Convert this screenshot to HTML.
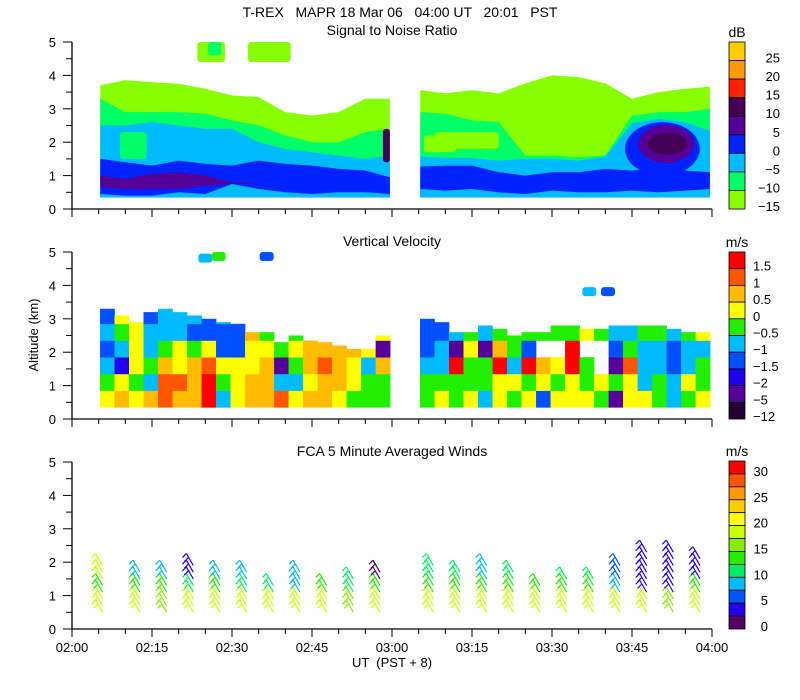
<!DOCTYPE html>
<html><head><meta charset="utf-8"><style>
body{margin:0;background:#fff}
svg{display:block}
text{font-family:"Liberation Sans",sans-serif;fill:#000}
</style></head><body>
<svg id="chart" width="800" height="700" viewBox="0 0 800 700" xmlns="http://www.w3.org/2000/svg">
<text x="400" y="17" font-size="14" text-anchor="middle" xml:space="preserve">T-REX   MAPR 18 Mar 06   04:00 UT   20:01   PST</text>
<text x="392" y="35" font-size="14" text-anchor="middle">Signal to Noise Ratio</text>
<text x="392" y="246" font-size="14" text-anchor="middle">Vertical Velocity</text>
<text x="392" y="456" font-size="14" text-anchor="middle">FCA 5 Minute Averaged Winds</text>
<text x="38" y="335" font-size="13" text-anchor="middle" transform="rotate(-90 38 335)">Altitude (km)</text>
<text x="392" y="667" font-size="13" text-anchor="middle" xml:space="preserve">UT  (PST + 8)</text>
<g id="g1"></g>
<g id="g2"></g>
<g id="g3"></g>
<g id="axes"></g>
<g id="bars"></g>
</svg>
<script>
// ---------- data ----------
const snrTimes1=[5.3,10,15,20,25,30,35,40,45,50,55,59.6];
const snrTimes2=[65.3,70,75,80,85,90,95,100,105,110,115,119.6];
const snrYGTop1=[3.7,3.86,3.8,3.75,3.6,3.4,3.35,2.9,2.8,2.9,3.3,3.3];
const snrGreenTop1=[3.3,2.9,2.9,2.9,2.85,2.65,2.5,2.2,2.0,2.0,2.3,2.4];
const snrCyanTop1=[2.5,2.5,2.6,2.5,2.4,2.4,2.0,1.8,1.7,1.6,1.5,1.6];
const snrBlueTop1=[1.5,1.4,1.3,1.45,1.35,1.3,1.45,1.35,1.3,1.2,1.15,0.95];
const snrBlueBot1=[0.45,0.4,0.4,0.5,0.45,0.75,0.6,0.5,0.45,0.5,0.5,0.45];
const snrPurpTop1=[1.0,0.9,1.05,1.1,1.0,0.8,0.75,0.75,0.75,0.75,0.75,0.75];
const snrPurpBot1=[0.65,0.6,0.6,0.6,0.7,0.75,0.75,0.75,0.75,0.75,0.75,0.75];
const snrYGTop2=[3.56,3.46,3.56,3.46,3.76,4.0,3.95,3.76,3.3,3.5,3.6,3.66];
const snrGreenTop2=[2.9,2.85,2.65,2.6,1.6,1.6,1.55,1.6,2.8,2.9,2.9,3.0];
const snrCyanTop2=[1.57,1.53,1.53,1.45,1.5,1.5,1.45,1.57,2.57,2.7,2.6,2.33];
const snrBlueTop2=[1.27,1.3,1.3,1.1,1.0,1.1,1.1,1.2,1.15,1.2,1.15,1.1];
const snrBlueBot2=[0.6,0.55,0.6,0.5,0.45,0.55,0.5,0.5,0.55,0.5,0.55,0.6];
const blobT=[110.7,111.4,111.6];
const blobA=[1.8,1.95,1.95];
const blobRT=[7,5.2,3.75];
const blobRA=[0.8,0.57,0.33];
const blobV=[2,7,12];
const snrPatchT0=[23.5,25.5,33,9,58.3,66,68];
const snrPatchT1=[28.7,28,41,14,59.6,72,80];
const snrPatchA0=[4.4,4.6,4.4,1.5,1.4,1.7,1.8];
const snrPatchA1=[5.0,5.0,5.0,2.3,2.4,2.2,2.3];
const snrPatchV=[-12,-8,-12,-8,12,-12,-12];

const vvSegStart=[5.25,65.25];
const vvColW=2.72;
const vvTops1=[3.3,3.1,2.9,3.2,3.3,3.2,3.1,3.0,2.9,2.9,2.6,2.6,2.3,2.5,2.4,2.3,2.2,2.1,2.1,2.5];
const vvSeg1=[
[0.3,-0.2,-0.8,-1.2,-0.8,-1.2],[0.6,0.3,-1.6,-0.8,-0.2,0.3],[0.3,-0.2,0.3,0.2,0.3,0.3],[0.7,-0.7,-0.3,-0.7,-0.8,-1.2],
[1.2,1.2,0.7,-0.2,-0.7,-0.8],[0.8,1.1,0.3,0.3,-0.7,-0.7],[0.8,0.7,0.8,-0.3,-1.1,-0.8],[1.7,1.6,1.2,0.2,-1.2,-1.2],
[-0.8,-0.2,0.2,-1.2,-1.3,-0.8],[0.3,0.4,0.3,-1.2,-1.3,null],[0.8,0.7,0.4,0.3,0.6,null],[0.9,0.7,0.6,0.3,-0.2,null],
[1.1,-0.7,-3,-0.2,null,null],[0.3,-0.7,-0.2,0.3,-0.2,null],[0.7,0.4,0.6,0.7,null,null],[0.8,0.7,1.1,0.6,null,null],
[0.3,0.6,0.6,0.7,null,null],[-0.2,0.3,0.4,0.6,null,null],[-0.2,-0.3,-0.7,0.3,null,null],[-0.2,-0.3,0.6,-3,0.3,null]];
const vvTops2=[3.0,2.9,2.6,2.6,2.8,2.7,2.5,2.6,2.6,2.8,2.8,2.7,2.7,2.8,2.8,2.8,2.8,2.7,2.6,2.6];
const vvSeg2=[
[-0.2,-0.2,-0.7,-1.3,-1.3,-1.2],[0.2,-0.2,-0.8,-0.7,-1.2,-1.2],[-0.2,-0.2,1.6,-3,-0.7,null],[0.3,-0.2,-0.2,0.2,-0.2,null],
[-0.7,-0.2,-0.2,-3,-0.7,null],[0.3,0.3,1.6,0.7,-0.2,null],[-0.2,0.3,-0.8,-0.2,-0.2,null],[0.3,-0.2,1.6,-1.2,-0.2,null],
[-1.2,0.3,0.7,null,-0.2,null],[0.3,-0.2,0.3,null,-0.2,null],[0.3,0.3,1.6,1.6,-0.2,null],[0.3,-0.2,-0.2,null,0.3,null],
[-0.2,0.3,null,null,-0.2,null],[-3,-0.2,-3,-1.2,-0.7,null],[0.3,0.3,1.2,-0.2,-0.7,null],[0.3,-0.7,-0.7,-0.7,-0.2,null],
[-0.2,-0.2,-0.7,-0.7,-0.2,null],[-0.7,-0.7,-1.3,-1.3,-0.7,null],[-0.2,0.3,-0.7,-0.7,-0.2,null],[0.3,-0.2,-0.2,-0.7,0.3,null]];
const vvPatchT=[25,27.5,36.5,97,100.5];
const vvPatchA=[4.8,4.85,4.85,3.8,3.8];
const vvPatchV=[-0.8,-0.2,-1.2,-0.8,-1.2];

const windTimes=[5,12,17,22,27,32,37,42,47,52,57,67,72,77,82,87,92,97,102,107,112,117];
const windTops=[2.0,1.8,1.8,1.9,1.8,1.8,1.3,1.8,1.4,1.6,1.7,1.9,1.8,2.0,1.7,1.4,1.5,1.5,1.9,2.4,2.4,2.1];
const windLow=[19,18,15,18,19,18,19,18,19,16,19,19,19,18,18,19,18,19,19,18,15,19];
const windMid=[14,13,13,12,13,11,12,8,14,12,13,14,13,14,13,14,13,14,8,4,4,14];
const windHigh=[18,9,8,4,8,8,4,8,4,12,2,12,12,8,12,2,12,12,6,3,4,4];

const snrTicks=["25","20","15","10","5","0","−5","−10","−15"];
const snrColors=["#ffcc00","#ff9900","#ff2200","#440055","#550099","#0022ff","#00bbff","#00ff66","#88ff00"];
const vvTicks=["1.5","1","0.5","0","−0.5","−1","−1.5","−2","−5","−12"];
const vvColors=["#ff0000","#ff5500","#ffbb00","#ffff00","#22ee00","#00bbff","#0050ff","#2000ee","#550099","#220033"];
const windTicks=["30","25","20","15","10","5","0"];
const windColors=["#ff0000","#ff5500","#ff9900","#ffcc00","#ffff00","#ccff00","#88ee00","#22ee00","#00ee66","#00bbff","#0055ff","#2200ee","#550066"];
const xTickLabels=["02:00","02:15","02:30","02:45","03:00","03:15","03:30","03:45","04:00"];

// ---------- helpers ----------
const NS="http://www.w3.org/2000/svg";
const bases=[209,419,629];
const X=m=>72+m*640/120;
const Y=(p,a)=>bases[p]-a*33.4;
function mk(tag,parent,attrs){const e=document.createElementNS(NS,tag);for(const k in attrs)e.setAttribute(k,attrs[k]);parent.appendChild(e);return e;}
function snrColor(v){if(v>=25)return snrColors[0];if(v>=20)return snrColors[1];if(v>=15)return snrColors[2];if(v>=10)return snrColors[3];if(v>=5)return snrColors[4];if(v>=0)return snrColors[5];if(v>=-5)return snrColors[6];if(v>=-10)return snrColors[7];return snrColors[8];}
function vvColor(v){const th=[1.5,1,0.5,0,-0.5,-1,-1.5,-2,-5];for(let i=0;i<th.length;i++)if(v>=th[i])return vvColors[i];return vvColors[9];}
function windColor(s){const i=12-Math.min(12,Math.floor(s/2.5));return windColors[i];}

// ---------- SNR ----------
const g1=document.getElementById('g1');
function area(g,p,times,top,bot,color,name){
  let pts=times.map((t,i)=>X(t)+','+Y(p,top[i]));
  for(let i=times.length-1;i>=0;i--)pts.push(X(times[i])+','+Y(p,bot?bot[i]:0.35));
  const e=mk('polygon',g,{points:pts.join(' '),fill:color});
  
  
}
[[snrTimes1,snrYGTop1,snrGreenTop1,snrCyanTop1,snrBlueTop1,snrBlueBot1],[snrTimes2,snrYGTop2,snrGreenTop2,snrCyanTop2,snrBlueTop2,snrBlueBot2]].forEach((s,k)=>{
  area(g1,0,s[0],s[1],null,snrColor(-12),'snr-minus15-layer');
  area(g1,0,s[0],s[2],null,snrColor(-8),'snr-minus10-layer');
  area(g1,0,s[0],s[3],null,snrColor(-3),'snr-minus5-layer');
  area(g1,0,s[0],s[4],null,snrColor(2),'snr-0-layer');
  area(g1,0,s[0],s[5],null,snrColor(-3),'snr-low-cyan-layer');
  if(k===0)area(g1,0,s[0],snrPurpTop1,snrPurpBot1,snrColor(7),'snr-5-layer');
});
snrPatchV.forEach((v,i)=>{
  const e=mk('rect',g1,{x:X(snrPatchT0[i]),y:Y(0,snrPatchA1[i]),width:X(snrPatchT1[i])-X(snrPatchT0[i]),height:(snrPatchA1[i]-snrPatchA0[i])*33.4,rx:3,fill:snrColor(v)});
  
  
});
blobV.forEach((v,i)=>{
  const e=mk('ellipse',g1,{cx:X(blobT[i]),cy:Y(0,blobA[i]),rx:blobRT[i]*640/120,ry:blobRA[i]*33.4,fill:snrColor(v)});
  
  
});

// ---------- Vertical velocity ----------
const g2=document.getElementById('g2');
[[vvSeg1,vvTops1],[vvSeg2,vvTops2]].forEach((s,k)=>{
  s[0].forEach((col,c)=>{
    const t0=vvSegStart[k]+c*vvColW;
    col.forEach((v,r)=>{
      if(v===null)return;
      const a0=0.35+r*0.5,a1=Math.min(a0+0.5,s[1][c]);
      if(a1<=a0)return;
      const e=mk('rect',g2,{x:X(t0),y:Y(1,a1),width:X(t0+vvColW)-X(t0)+0.3,height:(a1-a0)*33.4+0.3,fill:vvColor(v)});
      
      
    });
  });
});
vvPatchV.forEach((v,i)=>{
  const e=mk('rect',g2,{x:X(vvPatchT[i])-7,y:Y(1,vvPatchA[i])-5,width:14,height:9,rx:3,fill:vvColor(v)});
  
  
});

// ---------- Winds ----------
const g3=document.getElementById('g3');
windTimes.forEach((t,i)=>{
  for(let a=0.5;a<=windTops[i]+0.001;a+=0.2){
    const s=a<0.95?windLow[i]:(a<1.45?windMid[i]:windHigh[i]);
    const x=X(t),y=Y(2,a),c=windColor(s);
    const e=mk('path',g3,{d:`M${x+4},${y} L${x-3},${y-12} M${x-3},${y-12} L${x-7},${y-8} M${x-1},${y-8} L${x-5},${y-4}`,stroke:c,'stroke-width':1.2,fill:'none'});
    
    
  }
});

// ---------- Axes ----------
const ax=document.getElementById('axes');
[0,1,2].forEach(p=>{
  const b=bases[p];
  mk('line',ax,{x1:72,y1:b-167,x2:72,y2:b,stroke:'#000','stroke-width':1.3});
  mk('line',ax,{x1:72,y1:b,x2:712,y2:b,stroke:'#000','stroke-width':1.3});
  for(let k=0;k<=10;k++){const y=Y(p,k/2);mk('line',ax,{x1:k%2?66:63,y1:y,x2:72,y2:y,stroke:'#000'});
    if(k%2===0){const t=mk('text',ax,{x:56,y:y+5,'font-size':13,'text-anchor':'end'});t.textContent=String(k/2);}}
  for(let m=0;m<=120;m+=5){const x=X(m);mk('line',ax,{x1:x,y1:b,x2:x,y2:b+(m%15?5:8),stroke:'#000'});}
});
xTickLabels.forEach((l,i)=>{const t=mk('text',ax,{x:X(i*15),y:652,'font-size':13,'text-anchor':'middle'});t.textContent=l;
  
  });

// ---------- Colorbars ----------
const bars=document.getElementById('bars');
function bar(top,bot,colors,ticks,unit,labelFn,anchor,lx){
  const h=(bot-top)/colors.length;
  colors.forEach((c,i)=>{const r=mk('rect',bars,{x:729,y:top+i*h,width:16,height:h,fill:c,stroke:'#000','stroke-width':0.8});
    
    });
  ticks.forEach((tk,i)=>{const y=labelFn(i,h);const t=mk('text',bars,{x:lx,y:y+5,'font-size':13,'text-anchor':anchor});t.textContent=tk;
    
    });
  const u=mk('text',bars,{x:737,y:top-5,'font-size':14,'text-anchor':'middle'});u.textContent=unit;
  
  
}
bar(42,209,snrColors,snrTicks,'dB',(i,h)=>42+(i+1)*h-3,'end',780);
bar(252,419,vvColors,vvTicks,'m/s',(i,h)=>252+(i+1)*h-3,'start',753);
bar(461,629,windColors,windTicks,'m/s',(i,h)=>461+(2*i+1)*h-3,'end',768);
</script>
</body></html>
